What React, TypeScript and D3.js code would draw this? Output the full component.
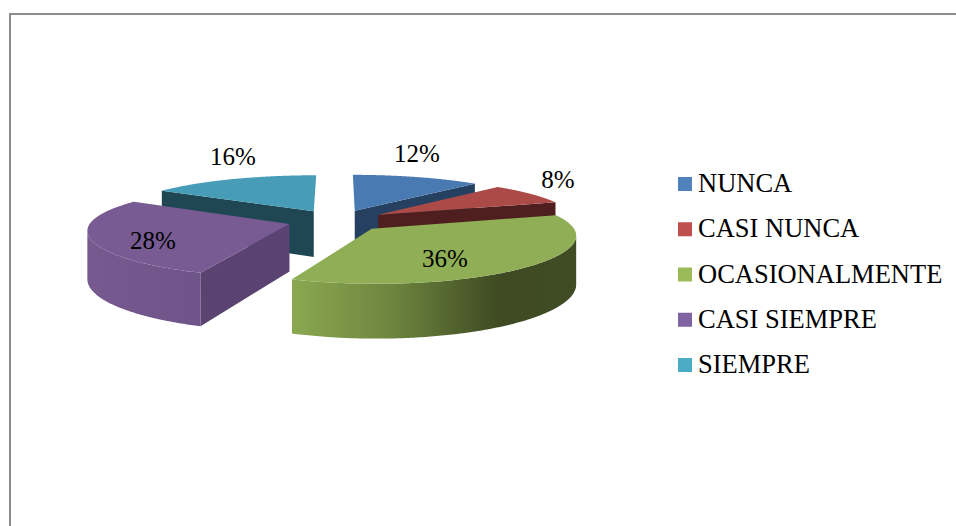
import React from "react";
import * as d3 from "d3";

const categories = ["NUNCA", "CASI NUNCA", "OCASIONALMENTE", "CASI SIEMPRE", "SIEMPRE"];
const percents = [12, 8, 36, 28, 16];
const legendColors = ["#4f81bd", "#c0504d", "#9bbb59", "#8064a2", "#4bacc6"];
const topColors = ["#4a7ab2", "#ab4a47", "#90ae55", "#775b92", "#479db7"];
const cutColors = ["#254061", "#4e1f1e", "#4a5a2a", "#5a4370", "#1f4753"];
const labelCenters: [number, number][] = [[417, 162], [558, 188], [445, 267], [153, 249], [233, 165]];
const drawOrder = [4, 0, 1, 3, 2];

const W = 956, H = 526;
const CX = 337, CY = 220.6, R = 198, RY = 44, KX = 0.12, KY = 0.15, EXPLODE = 0.25, DEPTH = 47;

const pie = d3.pie<number>().sort(null).value((d) => d).startAngle(0).endAngle(2 * Math.PI);
const arcs = pie(percents);
const lineGen = d3.line().curve(d3.curveLinear);

function project(gx: number, gy: number, z = 0): [number, number] {
  const wx = 1 + KX * gy;
  const wy = 1 + KY * gy;
  return [CX + (R * gx) / wx, CY - (RY * gy) / wy + (z * DEPTH) / wx];
}

export default function App() {
  const rows = d3.scalePoint<string>().domain(categories).range([184, 365]);
  const slices = arcs.map((a, i) => {
    const mid = (a.startAngle + a.endAngle) / 2;
    const ox = EXPLODE * Math.sin(mid);
    const oy = EXPLODE * Math.cos(mid);
    const rim = (t: number, z = 0) => project(ox + Math.sin(t), oy + Math.cos(t), z);
    const apex = (z = 0) => project(ox, oy, z);
    const ts = d3.range(0, 181).map((k) => a.startAngle + ((a.endAngle - a.startAngle) * k) / 180);
    const top = lineGen([apex(), ...ts.map((t) => rim(t))]) + "Z";
    // the outer wall is visible only where the rim runs right to left, towards the viewer
    const frontTs = ts.filter((t) => rim(t + 0.001)[0] < rim(t)[0] && Math.cos(t) < 0.3);
    const outer = frontTs.length
      ? lineGen([...frontTs.map((t) => rim(t)), ...frontTs.slice().reverse().map((t) => rim(t, 1))]) + "Z"
      : null;
    const cuts: string[] = [];
    if (Math.cos(a.startAngle - Math.PI / 2) < -0.01)
      cuts.push(lineGen([apex(), rim(a.startAngle), rim(a.startAngle, 1), apex(1)]) + "Z");
    if (Math.cos(a.endAngle + Math.PI / 2) < -0.01)
      cuts.push(lineGen([apex(), rim(a.endAngle), rim(a.endAngle, 1), apex(1)]) + "Z");
    return { i, top, outer, cuts };
  });
  const font = "'Liberation Serif', 'Times New Roman', serif";
  return (
    <svg width={W} height={H} style={{ position: "absolute", left: 0, top: 0, background: "#fff" }} fontFamily={font}>
      <defs>
        <linearGradient id="g2" gradientUnits="userSpaceOnUse" x1="293" x2="578" y1="0" y2="0">
          <stop offset="0" stopColor="#8aa850" />
          <stop offset="0.35" stopColor="#6d853f" />
          <stop offset="0.72" stopColor="#3f4a22" />
          <stop offset="1" stopColor="#404c24" />
        </linearGradient>
        <linearGradient id="g3" gradientUnits="userSpaceOnUse" x1="88" x2="201" y1="0" y2="0">
          <stop offset="0" stopColor="#75598f" />
          <stop offset="1" stopColor="#6f5489" />
        </linearGradient>
      </defs>
      <path d="M10 526V14H956" fill="none" stroke="#8c8c8c" strokeWidth={2} />
      {drawOrder.map((idx) => {
        const s = slices[idx];
        return (
          <g key={idx}>
            {s.outer && (
              <path d={s.outer} fill={idx === 2 ? "url(#g2)" : idx === 3 ? "url(#g3)" : cutColors[idx]} />
            )}
            {s.cuts.map((d, k) => (
              <path key={k} d={d} fill={cutColors[idx]} />
            ))}
            <path d={s.top} fill={topColors[idx]} />
          </g>
        );
      })}
      {percents.map((p, i) => (
        <text key={i} x={labelCenters[i][0]} y={labelCenters[i][1]} textAnchor="middle" fontSize={25} fill="#000">
          {p}%
        </text>
      ))}
      {categories.map((c, i) => (
        <g key={c}>
          <rect x={678} y={(rows(c) as number) - 7} width={14} height={14} fill={legendColors[i]} />
          <text x={698} y={(rows(c) as number) + 8} fontSize={26.5} fill="#000">
            {c}
          </text>
        </g>
      ))}
    </svg>
  );
}
